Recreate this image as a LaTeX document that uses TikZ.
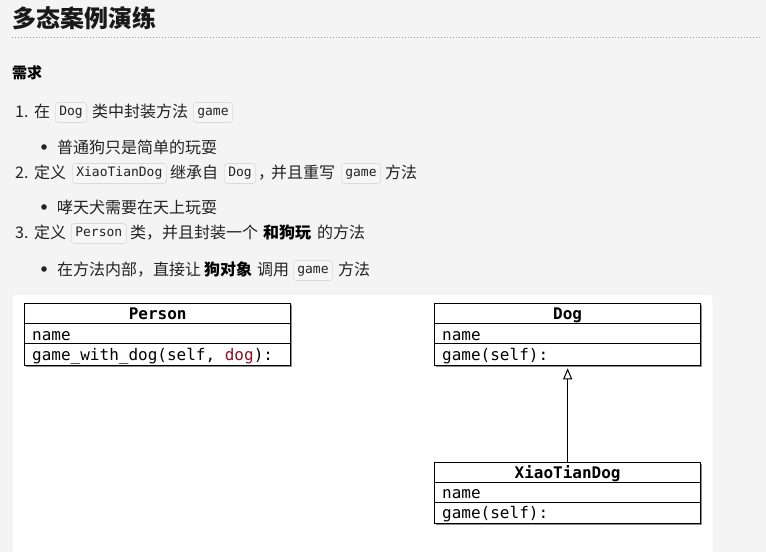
\documentclass[tikz,border=0pt]{standalone}
\usepackage{fontspec}
\setmonofont{DejaVu Sans Mono}
\newfontfamily\cjk{Noto Sans CJK SC}
\usetikzlibrary{arrows.meta,shadows}
\definecolor{pagebg}{HTML}{F4F4F4}
\definecolor{txtcol}{HTML}{222222}
\definecolor{codebg}{HTML}{F6F6F6}
\definecolor{codeborder}{HTML}{DADADA}
\definecolor{dogred}{HTML}{8E1020}
\begin{document}
\begin{tikzpicture}[x=1bp,y=-1bp,
  txt/.style={anchor=west, inner sep=0pt, font=\cjk\fontsize{16bp}{16bp}\selectfont, text=txtcol, text height=12.2bp, text depth=0pt},
  txtb/.style={txt, font=\cjk\bfseries\fontsize{16bp}{16bp}\selectfont, text=black},
  code/.style={anchor=west, inner xsep=4bp, inner ysep=0pt, font=\ttfamily\fontsize{13bp}{13bp}\selectfont, text=txtcol, fill=codebg, draw=codeborder, rounded corners=3bp, line width=0.6bp, text height=9.5bp, text depth=2.5bp, minimum height=20bp},
  umlbox/.style={draw=black, fill=white, line width=1.3bp, anchor=north west, minimum width=266bp, minimum height=62bp, inner sep=0pt, drop shadow={shadow xshift=1.6bp, shadow yshift=-1.6bp, opacity=0.45, fill=black}},
  umlrow/.style={line width=1bp},
  umltext/.style={anchor=base west, inner sep=0pt, font=\ttfamily\fontsize{16bp}{16bp}\selectfont, text=black},
  umlhead/.style={anchor=base, inner sep=0pt, font=\ttfamily\bfseries\fontsize{16bp}{16bp}\selectfont, text=black},
  bullet/.style={fill=txtcol}
]
\useasboundingbox (0,0) rectangle (766,552);
\clip (0,0) rectangle (766,552);
\fill[pagebg] (0,0) rectangle (766,552);

% title
\node[anchor=base west, inner sep=0pt, font=\cjk\bfseries\fontsize{24bp}{24bp}\selectfont, text=black!90] (title) at (12,28) {多态案例演练};
\draw[black!40, line width=0.8bp, dash pattern=on 0.8bp off 2.2bp] (12,37.5) -- (762,37.5);
\node[anchor=base west, inner sep=0pt, font=\cjk\bfseries\fontsize{15bp}{15bp}\selectfont, text=black] (req) at (12,79) {需求};

% item 1
\node[txt] (n1) at (15,111) {1.};
\node[txt] (i1a) at (34,111) {在};
\node[code] (i1b) at (55,112.5) {Dog};
\node[txt] (i1c) at (92,111) {类中封装方法};
\node[code] (i1d) at (193,112.5) {game};
\fill[bullet] (44,147) circle (2.8bp);
\node[txt] (b1) at (57,147) {普通狗只是简单的玩耍};

% item 2
\node[txt] (n2) at (15,172) {2.};
\node[txt] (i2a) at (34,172) {定义};
\node[code] (i2b) at (72,173.5) {XiaoTianDog};
\node[txt] (i2c) at (170,172) {继承自};
\node[code] (i2d) at (224,173.5) {Dog};
\node[txt] (i2e) at (258,172) {，};
\node[txt] (i2e2) at (271,172) {并且重写};
\node[code] (i2f) at (341,173.5) {game};
\node[txt] (i2g) at (385,172) {方法};
\fill[bullet] (44,207) circle (2.8bp);
\node[txt] (b2) at (57,207) {哮天犬需要在天上玩耍};

% item 3
\node[txt] (n3) at (15,232) {3.};
\node[txt] (i3a) at (34,232) {定义};
\node[code] (i3b) at (71,233.5) {Person};
\node[txt] (i3c) at (130,232) {类，并且封装一个};
\node[txtb] (i3d) at (263,232) {和狗玩};
\node[txt] (i3e) at (317,232) {的方法};
\fill[bullet] (44,269) circle (2.8bp);
\node[txt] (b3a) at (57,269) {在方法内部，直接让};
\node[txtb] (b3b) at (204,269) {狗对象};
\node[txt] (b3c) at (257,269) {调用};
\node[code] (b3d) at (293,270.5) {game};
\node[txt] (b3e) at (338,269) {方法};

% white panel
\draw[fill=white, draw=black!7, line width=0.6bp, rounded corners=4bp] (12,294) rectangle (713,580);

% Person class
\node[umlbox] (person) at (24,303) {};
\draw[umlrow] ([yshift=-20bp]person.north west) -- ([yshift=-20bp]person.north east);
\draw[umlrow] ([yshift=-40bp]person.north west) -- ([yshift=-40bp]person.north east);
\node[umlhead] (personh) at ([yshift=-16bp]person.north) {Person};
\node[umltext] (personn) at ([xshift=8bp,yshift=-37bp]person.north west) {name};
\node[umltext] (personm) at ([xshift=8bp,yshift=-57bp]person.north west) {game\_with\_dog(self, \textcolor{dogred}{dog}):};

% Dog class
\node[umlbox] (dog) at (434,303) {};
\draw[umlrow] ([yshift=-20bp]dog.north west) -- ([yshift=-20bp]dog.north east);
\draw[umlrow] ([yshift=-40bp]dog.north west) -- ([yshift=-40bp]dog.north east);
\node[umlhead] (dogh) at ([yshift=-16bp]dog.north) {Dog};
\node[umltext] (dogn) at ([xshift=8bp,yshift=-37bp]dog.north west) {name};
\node[umltext] (dogm) at ([xshift=8bp,yshift=-57bp]dog.north west) {game(self):};

% XiaoTianDog class
\node[umlbox, minimum height=61bp] (xtd) at (434,462) {};
\draw[umlrow] ([yshift=-20bp]xtd.north west) -- ([yshift=-20bp]xtd.north east);
\draw[umlrow] ([yshift=-40bp]xtd.north west) -- ([yshift=-40bp]xtd.north east);
\node[umlhead] (xtdh) at ([yshift=-16bp]xtd.north) {XiaoTianDog};
\node[umltext] (xtdn) at ([xshift=8bp,yshift=-36bp]xtd.north west) {name};
\node[umltext] (xtdm) at ([xshift=8bp,yshift=-56bp]xtd.north west) {game(self):};

% inheritance
\draw[line width=1bp, -{Triangle[open,length=11bp,width=9bp]}, shorten >=2bp] (xtd.north) -- (dog.south);
\end{tikzpicture}
\end{document}
